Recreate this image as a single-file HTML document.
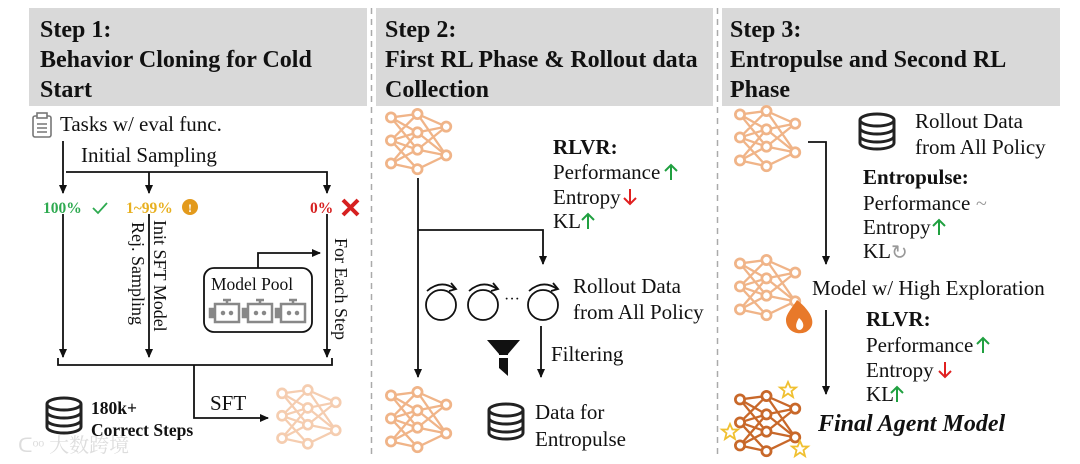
<!DOCTYPE html>
<html><head><meta charset="utf-8"><style>
html,body{margin:0;padding:0;background:#fff;}
svg{display:block;}
text{font-family:"Liberation Serif","Noto Serif CJK SC",serif;fill:#111;}
.b{font-weight:bold;}
</style></head><body>
<svg width="1080" height="464" viewBox="0 0 1080 464" xmlns="http://www.w3.org/2000/svg">
<defs>
<marker id="ar" markerWidth="10" markerHeight="10" refX="8" refY="5" orient="auto" markerUnits="userSpaceOnUse">
<path d="M0,1 L9,5 L0,9 Z" fill="#111"/></marker>
<g id="net">
<g stroke="currentColor" stroke-width="2" fill="none">
<path d="M0,3 L23,0 M0,3 L23,16 M0,3 L23,31 M0,23 L23,0 M0,23 L23,16 M0,23 L23,31 M0,23 L23,48 M0,43 L23,16 M0,43 L23,31 M0,43 L23,48 M23,0 L48,11 M23,16 L48,11 M23,16 L48,36 M23,31 L48,11 M23,31 L48,36 M23,48 L48,36 M23,0 L48,36"/>
</g>
<g stroke="currentColor" stroke-width="2.4" fill="#fff">
<circle cx="0" cy="3" r="4"/><circle cx="0" cy="23" r="4"/><circle cx="0" cy="43" r="4"/>
<circle cx="23" cy="0" r="4"/><circle cx="23" cy="16" r="4"/><circle cx="23" cy="31" r="4"/><circle cx="23" cy="48" r="4"/>
<circle cx="48" cy="11" r="4"/><circle cx="48" cy="36" r="4"/>
</g>
</g>
<g id="db" fill="none" stroke="#222" stroke-width="3">
<ellipse cx="19" cy="7" rx="17" ry="6"/>
<path d="M2,7 V30 A17,6 0 0 0 36,30 V7"/>
<path d="M2,15 A17,6 0 0 0 36,15 M2,23 A17,6 0 0 0 36,23"/>
</g>
<g id="cyc" fill="none" stroke="#111" stroke-width="1.8">
<circle cx="0" cy="0" r="15"/>
<path d="M-14,-14 Q0,-26 14,-16"/>
<path d="M10,-22 L15,-16 L8,-14" />
</g>
<g id="bot" fill="none" stroke="#888" stroke-width="2.5">
<rect x="0" y="4" width="24" height="18"/><path d="M12,0 V4 M8,0 H16"/>
<rect x="-5" y="9" width="3" height="8" fill="#888"/>
<circle cx="8" cy="13" r="1" fill="#888"/><circle cx="16" cy="13" r="1" fill="#888"/>
</g>
<g id="star" fill="none" stroke="#f0c030" stroke-width="1.8">
<path d="M0,-8 L2.4,-2.5 L8,-2.5 L3.5,1.2 L5,7 L0,3.6 L-5,7 L-3.5,1.2 L-8,-2.5 L-2.4,-2.5 Z"/>
</g>
<g id="up" fill="none" stroke="#20a040" stroke-width="2"><path d="M0,-7 V8 M-6,-1 L0,-7 L6,-1"/></g>
<g id="dn" fill="none" stroke="#e02020" stroke-width="2"><path d="M0,-8 V7 M-6,1 L0,7 L6,1"/></g>
</defs>

<!-- headers -->
<rect x="29" y="8" width="338" height="98" fill="#d9d9d9"/>
<rect x="376" y="8" width="337" height="98" fill="#d9d9d9"/>
<rect x="722" y="8" width="338" height="98" fill="#d9d9d9"/>
<g font-size="24">
<text x="40" y="37" class="b">Step 1:</text>
<text x="40" y="67" class="b">Behavior Cloning for Cold</text>
<text x="40" y="97" class="b">Start</text>
<text x="385" y="37" class="b">Step 2:</text>
<text x="385" y="67" class="b">First RL Phase &amp; Rollout data</text>
<text x="385" y="97" class="b">Collection</text>
<text x="730" y="37" class="b">Step 3:</text>
<text x="730" y="67" class="b">Entropulse and Second RL</text>
<text x="730" y="97" class="b">Phase</text>
</g>
<line x1="371.5" y1="8" x2="371.5" y2="458" stroke="#aaa" stroke-width="1.5" stroke-dasharray="6,5"/>
<line x1="717.5" y1="8" x2="717.5" y2="458" stroke="#aaa" stroke-width="1.5" stroke-dasharray="6,5"/>

<!-- STEP 1 -->
<g fill="none" stroke="#777" stroke-width="1.6">
<rect x="33" y="116" width="18" height="21" rx="2"/>
<rect x="37" y="113" width="10" height="5" fill="#fff"/>
<path d="M37,124 H47 M37,128 H47 M37,132 H47"/>
</g>
<text x="60" y="131" font-size="21">Tasks w/ eval func.</text>
<text x="81" y="162" font-size="21">Initial Sampling</text>
<g stroke="#111" stroke-width="1.8" fill="none">
<line x1="63" y1="141" x2="63" y2="193" marker-end="url(#ar)"/>
<path d="M66,172 H327 V193" marker-end="url(#ar)"/>
<line x1="149" y1="172" x2="149" y2="193" marker-end="url(#ar)"/>
<line x1="63" y1="214" x2="63" y2="357" marker-end="url(#ar)"/>
<line x1="149" y1="214" x2="149" y2="357" marker-end="url(#ar)"/>
<line x1="327" y1="214" x2="327" y2="357" marker-end="url(#ar)"/>
<path d="M58,358 V365 H332 V358"/>
<path d="M194,365 V418 H268" marker-end="url(#ar)"/>
<path d="M258,268 V253 H320" marker-end="url(#ar)"/>
<rect x="204" y="268" width="108" height="64" rx="10"/>
</g>
<text x="43" y="213" font-size="15.5" class="b" style="fill:#2eaa50">100%</text>
<path d="M93,208 L98,213 L107,203" stroke="#2eaa50" stroke-width="1.8" fill="none"/>
<text x="126" y="213" font-size="15.5" class="b" style="fill:#e8b020">1~99%</text>
<circle cx="190" cy="207" r="8" fill="#e39a1c"/>
<text x="190" y="212" font-size="12" class="b" text-anchor="middle" style="fill:#fff">!</text>
<text x="310" y="213" font-size="15.5" class="b" style="fill:#d62020">0%</text>
<path d="M343,200 L358,215 M358,200 L343,215" stroke="#d62020" stroke-width="4"/>
<text transform="translate(154,220) rotate(90)" font-size="18">Init SFT Model</text>
<text transform="translate(132,222) rotate(90)" font-size="18">Rej. Sampling</text>
<text transform="translate(335,238) rotate(90)" font-size="18">For Each Step</text>
<text x="211" y="290" font-size="17.5">Model Pool</text>
<use href="#bot" x="215" y="300"/>
<use href="#bot" x="248" y="300"/>
<use href="#bot" x="281" y="300"/>
<use href="#db" x="45" y="397"/>
<text x="91" y="414" font-size="17.5" class="b">180k+</text>
<text x="91" y="436" font-size="17.5" class="b">Correct Steps</text>
<text x="210" y="410" font-size="21">SFT</text>
<use href="#net" transform="translate(282,390) scale(1.12)" style="color:#f5cdb0"/>
<text x="18" y="452" font-size="20" style="fill:#ddd">ᑕᵒᵒ 大数跨境</text>

<!-- STEP 2 -->
<use href="#net" transform="translate(391,114) scale(1.15)" style="color:#f0b488"/>
<g stroke="#111" stroke-width="1.8" fill="none">
<line x1="418" y1="178" x2="418" y2="377" marker-end="url(#ar)"/>
<path d="M418,230 H543 V264" marker-end="url(#ar)"/>
<line x1="541" y1="326" x2="541" y2="377" marker-end="url(#ar)"/>
</g>
<text x="553" y="154" font-size="21" class="b">RLVR:</text>
<text x="553" y="179" font-size="21">Performance</text>
<text x="553" y="204" font-size="21">Entropy</text>
<text x="553" y="228" font-size="21">KL</text>
<use href="#up" x="671" y="172"/>
<use href="#dn" x="630" y="197"/>
<use href="#up" x="588" y="221"/>
<use href="#cyc" x="441" y="305"/>
<use href="#cyc" x="483" y="305"/>
<use href="#cyc" x="543" y="305"/>
<text x="504" y="304" font-size="16">···</text>
<text x="573" y="293" font-size="21">Rollout Data</text>
<text x="573" y="319" font-size="21">from All Policy</text>
<path d="M487,340 H520 L508,354 V355 H499 V354 Z" fill="#111"/>
<path d="M499,358 H508 V376 L499,368 Z" fill="#111"/>
<text x="551" y="361" font-size="21">Filtering</text>
<use href="#net" transform="translate(391,392) scale(1.15)" style="color:#f0b488"/>
<use href="#db" x="487" y="403"/>
<text x="535" y="419" font-size="21">Data for</text>
<text x="535" y="446" font-size="21">Entropulse</text>

<!-- STEP 3 -->
<use href="#net" transform="translate(740,111) scale(1.15)" style="color:#f0b488"/>
<use href="#db" x="858" y="113"/>
<text x="915" y="128" font-size="21">Rollout Data</text>
<text x="915" y="154" font-size="21">from All Policy</text>
<g stroke="#111" stroke-width="1.8" fill="none">
<path d="M808,142 H826 V264" marker-end="url(#ar)"/>
<line x1="826" y1="310" x2="826" y2="394" marker-end="url(#ar)"/>
</g>
<text x="863" y="184" font-size="21" class="b">Entropulse:</text>
<text x="863" y="210" font-size="21">Performance</text>
<text x="976" y="210" font-size="20" style="fill:#999">~</text>
<text x="863" y="234" font-size="21">Entropy</text>
<use href="#up" x="939" y="227"/>
<text x="863" y="258" font-size="21">KL</text>
<text x="891" y="259" font-size="20" style="fill:#999">↻</text>
<use href="#net" transform="translate(740,260) scale(1.15)" style="color:#f0b488"/>
<path d="M797,300 C812,312 818,325 806,332 C796,336 786,330 786,320 C786,314 792,308 797,300 Z" fill="#e8792a"/>
<path d="M799,318 C804,322 805,328 800,330 C795,330 795,324 799,318 Z" fill="#fff"/>
<text x="812" y="295" font-size="21">Model w/ High Exploration</text>
<text x="866" y="326" font-size="21" class="b">RLVR:</text>
<text x="866" y="352" font-size="21">Performance</text>
<text x="866" y="377" font-size="21">Entropy</text>
<text x="866" y="401" font-size="21">KL</text>
<use href="#up" x="983" y="345"/>
<use href="#dn" x="945" y="370"/>
<use href="#up" x="897" y="394"/>
<use href="#net" transform="translate(740,396) scale(1.15)" style="color:#c8682a"/>
<use href="#star" x="788" y="390"/>
<use href="#star" x="730" y="432"/>
<use href="#star" x="800" y="449"/>
<text x="818" y="431" font-size="24" class="b" font-style="italic">Final Agent Model</text>
</svg>
</body></html>
